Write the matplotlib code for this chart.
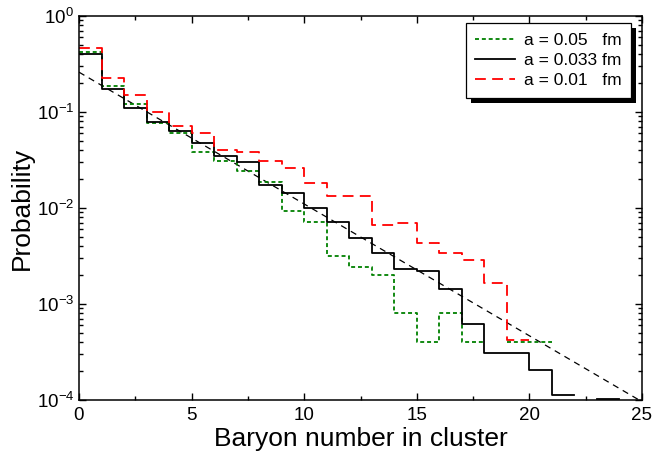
import numpy as np
import matplotlib
matplotlib.use("Agg")
import matplotlib.pyplot as plt
from matplotlib.patches import Rectangle
from matplotlib.transforms import IdentityTransform
from matplotlib.ticker import MultipleLocator, LogLocator, NullFormatter

plt.rcParams['font.family'] = ['Liberation Sans', 'DejaVu Sans']
plt.rcParams['mathtext.default'] = 'regular'

nan = np.nan
# probabilities per baryon-number bin (bin n spans n..n+1)
p_a005 = [0.42, 0.186, 0.12, 0.076, 0.060, 0.038, 0.031, 0.024, 0.0185, 0.0092,
          0.0072, 0.0032, 0.0024, 0.0020, 0.00081, 0.0004, 0.00081, 0.0004, nan,
          0.0004, 0.0004]
p_a0033 = [0.40, 0.173, 0.11, 0.078, 0.063, 0.048, 0.035, 0.030, 0.0172, 0.0142,
           0.0101, 0.0072, 0.0049, 0.0034, 0.0023, 0.0022, 0.00145, 0.00062,
           0.00031, 0.00031, 0.000205, 0.000113, nan, 0.000102]
p_a001 = [0.46, 0.224, 0.15, 0.100, 0.071, 0.061, 0.040, 0.038, 0.031, 0.026,
          0.0184, 0.0132, 0.0132, 0.0067, 0.0070, 0.0043, 0.0034, 0.0029,
          0.00166, 0.00042]
fit_x = [0, 25]
fit_y = [0.26, 9.6e-5]

labels = ["a = 0.05   fm", "a = 0.033 fm", "a = 0.01   fm"]

fig = plt.figure(figsize=(6.52, 4.57), dpi=100)
ax = fig.add_axes([79/652, 1-400/457, 563/652, 384/457])

def stairs(vals, **kw):
    x = np.arange(len(vals) + 1)
    y = list(vals) + [vals[-1]]
    return ax.step(x, y, where='post', **kw)[0]

ax.plot(fit_x, fit_y, color='black', lw=0.9, dashes=(5, 4))
h1 = stairs(p_a005, color='#008000', lw=1.3, dashes=(2.2, 1.6))
h2 = stairs(p_a0033, color='black', lw=1.3)
h3 = stairs(p_a001, color='#ff0000', lw=1.3, dashes=(6, 3.5))

ax.set_yscale('log')
ax.set_xlim(0, 25)
ax.set_ylim(1e-4, 1)
ax.xaxis.set_major_locator(MultipleLocator(5))
ax.xaxis.set_minor_locator(MultipleLocator(2.5))
ax.yaxis.set_major_locator(LogLocator(base=10, numticks=10))
ax.yaxis.set_minor_locator(LogLocator(base=10, subs=np.arange(2, 10), numticks=20))
ax.yaxis.set_minor_formatter(NullFormatter())
ax.tick_params(which='both', direction='in', top=True, right=True, width=1.0,
               labelsize=13.5, colors='black')
ax.tick_params(which='major', length=5)
ax.tick_params(which='minor', length=3)
ax.tick_params(axis='x', pad=5)
for s in ax.spines.values():
    s.set_linewidth(1.1)

ax.set_xlabel('Baryon number in cluster', fontsize=19, labelpad=2)
ax.set_ylabel('Probability', fontsize=19, labelpad=2)

leg = ax.legend([h1, h2, h3], labels, loc='upper right',
                bbox_to_anchor=(0.9805, 0.982), borderaxespad=0,
                fontsize=12.5, fancybox=False, framealpha=1, edgecolor='black',
                handlelength=2.3, handletextpad=0.5, labelspacing=0.3,
                borderpad=0.55)
leg.get_frame().set_linewidth(0.9)

fig.canvas.draw()
bb = leg.get_window_extent()
shadow = Rectangle((bb.x0 + 5, bb.y0 - 5), bb.width, bb.height,
                   transform=IdentityTransform(), facecolor='black',
                   edgecolor='none', zorder=leg.get_zorder() - 0.1,
                   clip_on=False)
ax.add_artist(shadow)

fig.savefig('out.png', dpi=100)
